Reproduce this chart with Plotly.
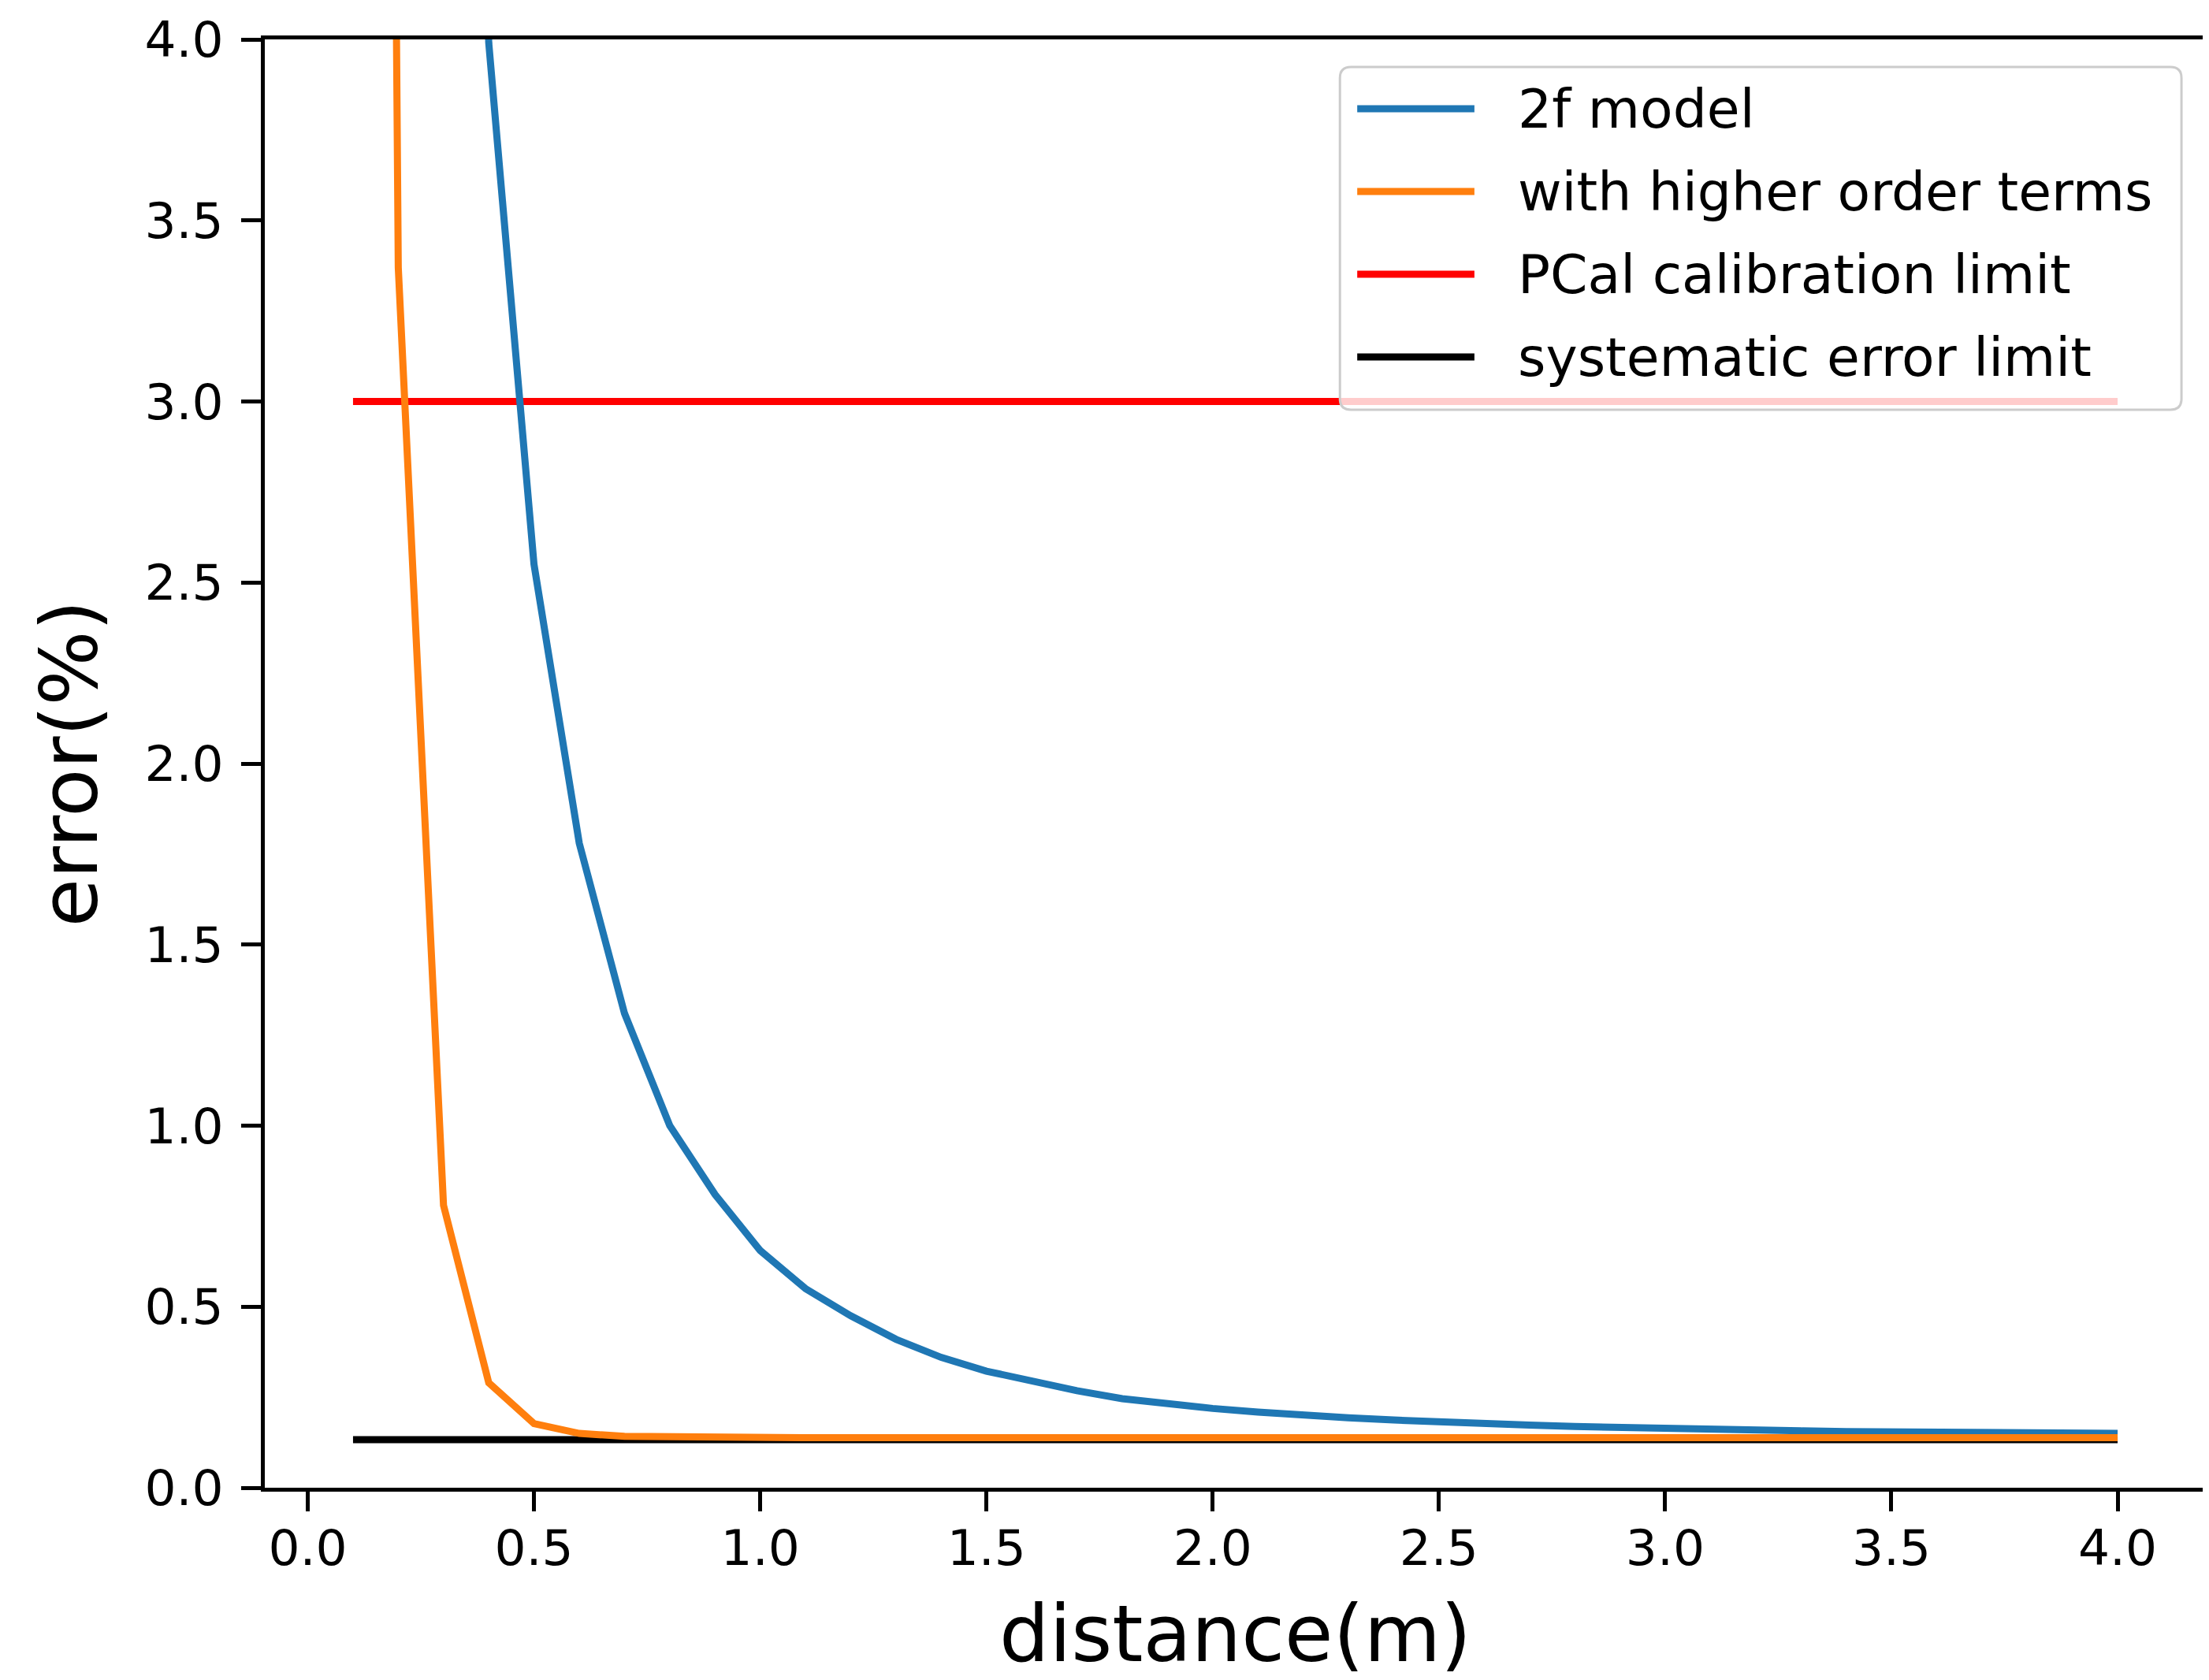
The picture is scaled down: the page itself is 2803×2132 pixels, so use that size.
import plotly.graph_objects as go

# ---------------- data ----------------
distance = [0.1, 0.2, 0.3, 0.4, 0.5, 0.6, 0.7, 0.8, 0.9, 1.0,
            1.1, 1.2, 1.3, 1.4, 1.5, 1.6, 1.7, 1.8, 1.9, 2.0,
            2.1, 2.2, 2.3, 2.4, 2.5, 2.6, 2.7, 2.8, 2.9, 3.0,
            3.1, 3.2, 3.3, 3.4, 3.5, 3.6, 3.7, 3.8, 3.9, 4.0]

model_2f = [60.0, 16.0, 7.3, 3.99, 2.55, 1.78, 1.31, 1.00, 0.81, 0.655,
            0.55, 0.475, 0.41, 0.36, 0.322, 0.293, 0.268, 0.246, 0.232, 0.219,
            0.209, 0.200, 0.193, 0.187, 0.181, 0.177, 0.173, 0.169, 0.166, 0.162,
            0.160, 0.158, 0.157, 0.155, 0.154, 0.153, 0.152, 0.151, 0.150, 0.150]

higher_order = [19.5, 3.37, 0.78, 0.29, 0.177, 0.150, 0.142, 0.140, 0.139, 0.138,
                0.138, 0.138, 0.138, 0.138, 0.138, 0.138, 0.138, 0.138, 0.138, 0.138,
                0.138, 0.138, 0.138, 0.138, 0.138, 0.138, 0.138, 0.138, 0.138, 0.138,
                0.138, 0.138, 0.138, 0.138, 0.138, 0.138, 0.138, 0.138, 0.138, 0.138]

limit_distance = [0.1, 4.0]
pcal_limit = [3.0, 3.0]
systematic_limit = [0.133, 0.133]

series_names = ["2f model", "with higher order terms",
                "PCal calibration limit", "systematic error limit"]
series_colors = ["#1f77b4", "#ff7f0e", "#ff0000", "#000000"]

x_ticks = [0.0, 0.5, 1.0, 1.5, 2.0, 2.5, 3.0, 3.5, 4.0]
x_tick_labels = ["0.0", "0.5", "1.0", "1.5", "2.0", "2.5", "3.0", "3.5", "4.0"]
y_ticks = [0.0, 0.5, 1.0, 1.5, 2.0, 2.5, 3.0, 3.5, 4.0]
y_tick_labels = ["0.0", "0.5", "1.0", "1.5", "2.0", "2.5", "3.0", "3.5", "4.0"]

x_title = "distance(m)"
y_title = "error(%)"

# ---------------- layout constants ----------------
# compensate for the page body's default margin so the plot lands
# at the same window pixels as the reference
BX, BY = 3, 8
W, H = 2803 - BX, 2132 - BY
ML, MR, MT, MB = 331 - BX, 4, 50 - BY, 244
FONT = "DejaVu Sans"
LW = 9

plot_w = W - ML - MR
plot_h = H - MT - MB


def px_x(px):
    # window pixel -> paper fraction
    return (px - BX - ML) / plot_w


def px_y(py):
    return (H - MB - (py - BY)) / plot_h


fig = go.Figure()

# z-order: limits underneath, curves on top
fig.add_trace(go.Scatter(x=limit_distance, y=pcal_limit, mode="lines",
                         name=series_names[2],
                         line=dict(color=series_colors[2], width=LW),
                         showlegend=False))
fig.add_trace(go.Scatter(x=limit_distance, y=systematic_limit, mode="lines",
                         name=series_names[3],
                         line=dict(color=series_colors[3], width=LW),
                         showlegend=False))
fig.add_trace(go.Scatter(x=distance, y=model_2f, mode="lines",
                         name=series_names[0],
                         line=dict(color=series_colors[0], width=LW),
                         showlegend=False))
fig.add_trace(go.Scatter(x=distance, y=higher_order, mode="lines",
                         name=series_names[1],
                         line=dict(color=series_colors[1], width=LW),
                         showlegend=False))

axis_common = dict(
    showline=True, linecolor="black", linewidth=4.5, mirror=True,
    ticks="outside", ticklen=25, tickwidth=4.5, tickcolor="black",
    showgrid=False, zeroline=False,
    tickfont=dict(family=FONT, size=63, color="black"),
)

fig.update_xaxes(range=[-0.095, 4.195], tickvals=x_ticks, ticktext=x_tick_labels,
                 ticklabelstandoff=-7,
                 title=dict(text=x_title, font=dict(family=FONT, size=100, color="black"),
                            standoff=40),
                 **axis_common)
fig.update_yaxes(range=[0, 4], tickvals=y_ticks, ticktext=y_tick_labels,
                 ticklabelstandoff=10,
                 title=dict(text=y_title, font=dict(family=FONT, size=100, color="black"),
                            standoff=28),
                 **axis_common)

# ---------------- legend (matplotlib-style box) ----------------
bx0, bx1, by0, by1 = 1698, 2768, 85, 520
r = 14
x0p, x1p = px_x(bx0), px_x(bx1)
y0p, y1p = px_y(by1), px_y(by0)
rx, ry = r / plot_w, r / plot_h
path = (f"M{x0p + rx},{y1p} L{x1p - rx},{y1p} Q{x1p},{y1p} {x1p},{y1p - ry} "
        f"L{x1p},{y0p + ry} Q{x1p},{y0p} {x1p - rx},{y0p} "
        f"L{x0p + rx},{y0p} Q{x0p},{y0p} {x0p},{y0p + ry} "
        f"L{x0p},{y1p - ry} Q{x0p},{y1p} {x0p + rx},{y1p} Z")
shapes = [dict(type="path", xref="paper", yref="paper", path=path,
               fillcolor="rgba(255,255,255,0.8)",
               line=dict(color="#cccccc", width=3), layer="above")]

row_y = [138, 243, 348, 453]
sample_x0, sample_x1 = 1720, 1869
text_x = 1922
annotations = []
for name, color, ry_px in zip(series_names, series_colors, row_y):
    shapes.append(dict(type="line", xref="paper", yref="paper",
                       x0=px_x(sample_x0), x1=px_x(sample_x1),
                       y0=px_y(ry_px), y1=px_y(ry_px),
                       line=dict(color=color, width=LW), layer="above"))
    annotations.append(dict(xref="paper", yref="paper", x=px_x(text_x), y=px_y(ry_px),
                            text=name, showarrow=False, xanchor="left", yanchor="middle",
                            font=dict(family=FONT, size=68, color="black")))

fig.update_layout(
    width=W, height=H,
    margin=dict(l=ML, r=MR, t=MT, b=MB),
    paper_bgcolor="white", plot_bgcolor="white",
    font=dict(family=FONT, color="black"),
    showlegend=False,
    shapes=shapes,
    annotations=annotations,
)

fig.write_html("out.html")
